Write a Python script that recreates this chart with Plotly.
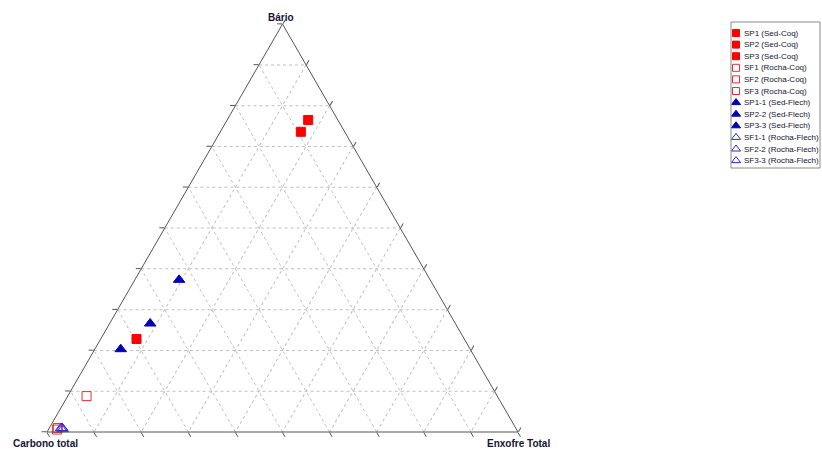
import plotly.graph_objects as go

# Ternary composition (%) : Bário (a), Carbono total (b), Enxofre Total (c)
series_names = [
    "SP1 (Sed-Coq)", "SP2 (Sed-Coq)", "SP3 (Sed-Coq)",
    "SF1 (Rocha-Coq)", "SF2 (Rocha-Coq)", "SF3 (Rocha-Coq)",
    "SP1-1 (Sed-Flech)", "SP2-2 (Sed-Flech)", "SP3-3 (Sed-Flech)",
    "SF1-1 (Rocha-Flech)", "SF2-2 (Rocha-Flech)", "SF3-3 (Rocha-Flech)",
]
bario = [76.5, 73.6, 22.8, 8.8, 1.0, 0.6, 37.3, 26.6, 20.3, 1.0, 0.7, 0.9]
carbono = [6.3, 9.3, 69.6, 87.2, 97.2, 97.6, 53.3, 64.8, 74.2, 96.3, 96.3, 96.6]
enxofre = [17.2, 17.1, 7.6, 4.0, 1.8, 1.8, 9.4, 8.6, 5.5, 2.7, 3.0, 2.5]

# Marker style per group of three series
group_symbols = ["square", "square-open", "triangle-up", "triangle-up-open"]
group_colors = ["#ff0000", "#e83030", "#0000b4", "#2a2ad0"]

W, H = 822, 449

fig = go.Figure()

for i, name in enumerate(series_names):
    g = i // 3
    fig.add_trace(go.Scatterternary(
        a=[bario[i]], b=[carbono[i]], c=[enxofre[i]],
        mode="markers", name=name, showlegend=False,
        marker=dict(symbol=group_symbols[g], size=9 if g < 2 else 10,
                    color=group_colors[g],
                    line=dict(color=group_colors[g], width=1)),
        cliponaxis=False,
    ))

# Custom compact legend drawn in a pixel-scaled overlay axis
leg_x0, leg_x1, leg_y0, leg_y1 = 731, 820, 22, 168
row0, row_step = 33, 11.6
leg_y = [row0 + i * row_step for i in range(len(series_names))]
for g in range(4):
    idx = list(range(g * 3, g * 3 + 3))
    fig.add_trace(go.Scatter(
        x=[736] * 3, y=[leg_y[i] for i in idx], mode="markers",
        showlegend=False, hoverinfo="skip", xaxis="x", yaxis="y",
        marker=dict(symbol=group_symbols[g], size=7 if g < 2 else 8,
                    color=group_colors[g],
                    line=dict(color=group_colors[g], width=1)),
    ))

annotations = []
for i, name in enumerate(series_names):
    annotations.append(dict(
        x=742, y=leg_y[i], xref="x", yref="y", text=name, showarrow=False,
        xanchor="left", yanchor="middle",
        font=dict(family="Liberation Sans, Arial", size=8, color="#141432"),
    ))

title_font = dict(family="Liberation Sans, Arial", size=10, color="#141432")
annotations += [
    dict(x=281, y=17, xref="x", yref="y", text="<b>Bário</b>", showarrow=False,
         xanchor="center", yanchor="middle", font=title_font),
    dict(x=45, y=443, xref="x", yref="y", text="<b>Carbono total</b>", showarrow=False,
         xanchor="center", yanchor="middle", font=title_font),
    dict(x=518, y=443, xref="x", yref="y", text="<b>Enxofre Total</b>", showarrow=False,
         xanchor="center", yanchor="middle", font=title_font),
]

axis_style = dict(
    showticklabels=False, ticks="outside", ticklen=5, tickcolor="#555555",
    tickwidth=1, dtick=10, linecolor="#555555", linewidth=1,
    showgrid=True, gridcolor="#c0c0c0", gridwidth=1, griddash="3px,3px",
    title=dict(text=""), min=0,
)

tri_base, tri_left, tri_right = 432, 47, 518
tri_top = tri_base - (tri_right - tri_left) * 3 ** 0.5 / 2

fig.update_layout(
    width=W, height=H,
    margin=dict(l=0, r=0, t=0, b=0),
    paper_bgcolor="white", plot_bgcolor="rgba(0,0,0,0)",
    ternary=dict(
        sum=100,
        domain=dict(x=[tri_left / W, tri_right / W],
                    y=[(H - tri_base) / H, (H - tri_top) / H]),
        bgcolor="white",
        aaxis=axis_style, baxis=axis_style, caxis=axis_style,
    ),
    xaxis=dict(domain=[0, 1], range=[0, W], visible=False, fixedrange=True),
    yaxis=dict(domain=[0, 1], range=[H, 0], visible=False, fixedrange=True),
    shapes=[dict(type="rect", xref="x", yref="y", x0=leg_x0, x1=leg_x1,
                 y0=leg_y0, y1=leg_y1, line=dict(color="#8a8a8a", width=1))],
    annotations=annotations,
    showlegend=False,
)

fig.write_html("out.html")
